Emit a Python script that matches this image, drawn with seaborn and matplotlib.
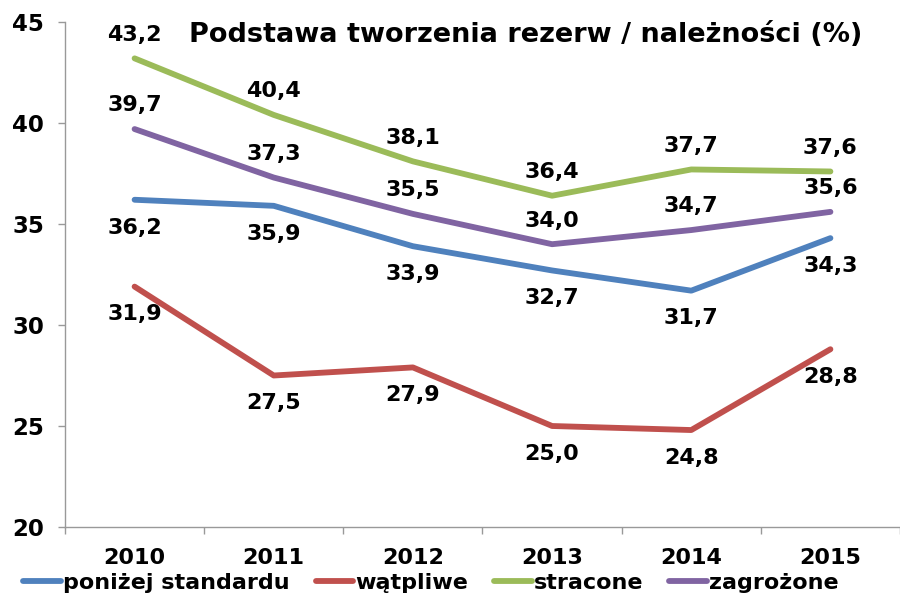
import pandas as pd
import matplotlib.pyplot as plt
import seaborn as sns

# data
years = ["2010", "2011", "2012", "2013", "2014", "2015"]
ponizej = [36.2, 35.9, 33.9, 32.7, 31.7, 34.3]
watpliwe = [31.9, 27.5, 27.9, 25.0, 24.8, 28.8]
stracone = [43.2, 40.4, 38.1, 36.4, 37.7, 37.6]
zagrozone = [39.7, 37.3, 35.5, 34.0, 34.7, 35.6]

series = {
    "poniżej standardu": ponizej,
    "wątpliwe": watpliwe,
    "stracone": stracone,
    "zagrożone": zagrozone,
}
colors = ["#4F81BD", "#C0504D", "#9BBB59", "#8064A2"]
# label above (+) or below (-) the line
label_side = {"poniżej standardu": -1, "wątpliwe": -1, "stracone": 1, "zagrożone": 1}

rows = []
for name, vals in series.items():
    for i, v in enumerate(vals):
        rows.append({"rok": i, "seria": name, "wartosc": v})
df = pd.DataFrame(rows)

sns.set_style("white")
plt.rcParams["font.family"] = ["DejaVu Sans"]
plt.rcParams["font.weight"] = "bold"
plt.rcParams["text.color"] = "black"
plt.rcParams["xtick.color"] = "black"
plt.rcParams["ytick.color"] = "black"
plt.rcParams["lines.solid_capstyle"] = "round"

fig = plt.figure(figsize=(9, 5.98), dpi=100)
ax = fig.add_axes([65 / 900, 1 - 527 / 598, 835 / 900, (527 - 22) / 598])

sns.lineplot(data=df, x="rok", y="wartosc", hue="seria", palette=colors,
             linewidth=4.2, ax=ax, legend=True)

for name, vals in series.items():
    side = label_side[name]
    off = 17 if side > 0 else -20
    for i, v in enumerate(vals):
        ax.annotate(f"{v:.1f}".replace(".", ","), (i, v), xytext=(0, off),
                    textcoords="offset points", ha="center", va="center",
                    fontsize=16, fontweight="heavy", color="black")

ax.set_xlim(-0.5, 5.5)
ax.set_ylim(20, 45)
ax.set_yticks([20, 25, 30, 35, 40, 45])
ax.set_xticks(range(len(years)))
ax.set_xticklabels(years)
ax.set_xticks([x - 0.5 for x in range(len(years) + 1)], minor=True)
ax.tick_params(axis="x", which="major", bottom=True, length=0, pad=15, labelsize=16,
               labelcolor="black")
ax.tick_params(axis="x", which="minor", bottom=True, length=5, width=1, color="#999999",
               direction="out")
ax.tick_params(axis="y", left=True, length=5, width=1, color="#999999", direction="out",
               labelsize=16.5, pad=10, labelcolor="black")
for lab in ax.get_xticklabels() + ax.get_yticklabels():
    lab.set_fontweight("heavy")

for s in ["top", "right"]:
    ax.spines[s].set_visible(False)
for s in ["left", "bottom"]:
    ax.spines[s].set_color("#999999")
    ax.spines[s].set_linewidth(1)
ax.set_xlabel("")
ax.set_ylabel("")

ax.text(0.552, 0.975, "Podstawa tworzenia rezerw / należności (%)", transform=ax.transAxes,
        ha="center", va="center", fontsize=19.5, fontweight="heavy", color="black")

handles, labels = ax.get_legend_handles_labels()
ax.get_legend().remove()
leg = fig.legend(handles, labels, loc="center", bbox_to_anchor=(0.479, 0.025), ncol=4,
                 frameon=False, fontsize=16, handlelength=1.7, handletextpad=0.1,
                 columnspacing=1.15, borderaxespad=0)
for t in leg.get_texts():
    t.set_fontweight("heavy")
    t.set_color("black")

fig.savefig("out.png", dpi=100)
plt.close(fig)
